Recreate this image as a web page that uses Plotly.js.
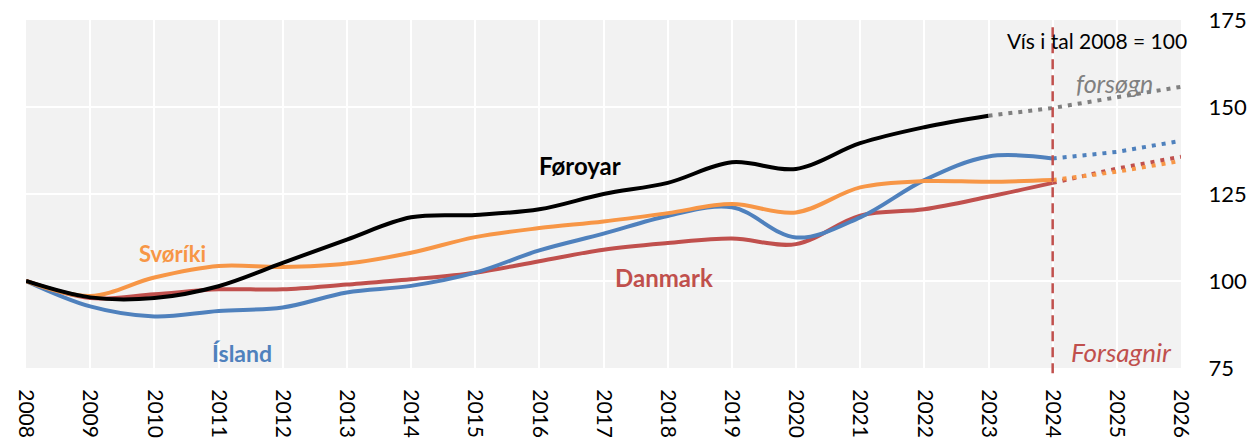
<!DOCTYPE html>
<html>
<head>
<meta charset="utf-8">
<script src="https://cdn.plot.ly/plotly-3.0.1.min.js"></script>
<style>html,body{margin:0;padding:0;background:#fff;}#chart{width:1250px;height:439px;}</style>
</head>
<body>
<div id="chart"></div>
<script>
// Actual years
const years = [2008,2009,2010,2011,2012,2013,2014,2015,2016,2017,2018,2019,2020,2021,2022,2023,2024];
const foroyar = [100,95.3,95.1,98.5,105.2,111.9,118.3,119.0,120.6,125.0,128.2,134.1,132.2,139.6,144.2,147.5];
const sviriki = [100,95.7,101.0,104.3,104.0,105.0,108.1,112.6,115.2,117.1,119.5,122.1,119.7,126.9,128.7,128.5,129.0];
const island  = [100,92.7,89.8,91.4,92.4,96.7,98.6,102.4,108.8,113.6,118.7,121.2,112.5,118.3,129.0,135.8,135.2];
const danmark = [100,95.1,96.2,97.6,97.6,99.0,100.5,102.4,105.7,109.0,110.9,112.2,110.6,118.8,120.6,124.2,128.2];
// Forecasts
const fcYearsF = [2023,2024,2025,2026];
const fcForoyar = [147.5,149.7,152.8,155.8];
const fcYears = [2024,2025,2026];
const fcIsland  = [135.2,137.1,140.3];
const fcDanmark = [128.2,132.3,135.7];
const fcSviriki = [129.0,131.4,134.5];
const xTicks = [2008,2009,2010,2011,2012,2013,2014,2015,2016,2017,2018,2019,2020,2021,2022,2023,2024,2025,2026];
const yTicks = [75,100,125,150,175];

const C = {black:'#000000', orange:'#f79646', blue:'#4f81bd', red:'#c0504d', gray:'#808080'};
const FONT = 'Lato, "Open Sans", sans-serif';

function solid(x, y, color){
  return {x:x, y:y, type:'scatter', mode:'lines', hoverinfo:'skip', showlegend:false,
          line:{color:color, width:4, shape:'spline', smoothing:1}};
}
function dotted(x, y, color){
  return {x:x, y:y, type:'scatter', mode:'lines', hoverinfo:'skip', showlegend:false,
          line:{color:color, width:4, dash:'4px,6px'}};
}

const traces = [
  solid(years, danmark, C.red),
  solid(years, island, C.blue),
  solid(years, sviriki, C.orange),
  solid(years.slice(0, foroyar.length), foroyar, C.black),
  dotted(fcYearsF, fcForoyar, C.gray),
  dotted(fcYears, fcIsland, C.blue),
  dotted(fcYears, fcDanmark, C.red),
  dotted(fcYears, fcSviriki, C.orange)
];

const layout = {
  width:1250, height:439,
  margin:{l:26, r:69, t:20, b:71},
  paper_bgcolor:'#ffffff', plot_bgcolor:'#f2f2f2',
  font:{family:FONT, size:21, color:'#000'},
  showlegend:false,
  xaxis:{range:[2008,2026], tickvals:xTicks, ticktext:xTicks.map(String), tickangle:90,
         showgrid:true, gridcolor:'#ffffff', gridwidth:2, zeroline:false, showline:false,
         ticks:'outside', ticklen:16, tickcolor:'rgba(0,0,0,0)', tickfont:{family:FONT, size:21, color:'#000'}},
  yaxis:{range:[75,175], side:'right', tickvals:yTicks, ticktext:yTicks.map(String),
         showgrid:true, gridcolor:'#ffffff', gridwidth:2, zeroline:false, showline:false,
         ticks:'outside', ticklen:22, tickcolor:'rgba(0,0,0,0)', tickfont:{family:FONT, size:22, color:'#000'}},
  shapes:[{type:'line', xref:'x', yref:'paper', x0:2024, x1:2024, y0:-0.015, y1:0.99,
           line:{color:C.red, width:2.5, dash:'10px,6px'}}],
  annotations:[
    {x:2016.63, y:133.3, text:'<b>Føroyar</b>', showarrow:false, font:{family:FONT, size:24, color:C.black}},
    {x:2010.28, y:107.8, text:'<b>Svøríki</b>', showarrow:false, font:{family:FONT, size:22, color:C.orange}},
    {x:2011.36, y:79.3, text:'<b>Ísland</b>', showarrow:false, font:{family:FONT, size:23, color:C.blue}},
    {x:2017.94, y:101.0, text:'<b>Danmark</b>', showarrow:false, font:{family:FONT, size:24, color:C.red}},
    {x:2024.69, y:169.0, text:'Vís i tal 2008 = 100', showarrow:false, font:{family:FONT, size:21, color:'#000'}},
    {x:2024.96, y:156.9, text:'<i>forsøgn</i>', showarrow:false, font:{family:FONT, size:25, color:C.gray}},
    {x:2025.07, y:79.6, text:'<i>Forsagnir</i>', showarrow:false, font:{family:FONT, size:26, color:C.red}}
  ]
};

Plotly.newPlot('chart', traces, layout, {staticPlot:true, displayModeBar:false});
</script>
</body>
</html>
